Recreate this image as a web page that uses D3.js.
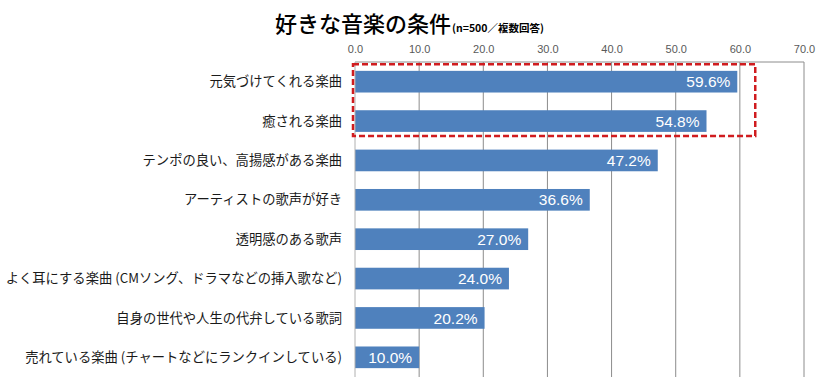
<!DOCTYPE html>
<html>
<head>
<meta charset="utf-8">
<script src="https://cdn.jsdelivr.net/npm/d3@7"></script>
<style>
  body { margin: 0; background: #fff; }
  svg { display: block; }
</style>
</head>
<body>
<div id="chart"></div>
<script>
// データ
var categories = [
  "元気づけてくれる楽曲",
  "癒される楽曲",
  "テンポの良い、高揚感がある楽曲",
  "アーティストの歌声が好き",
  "透明感のある歌声",
  "よく耳にする楽曲 (CMソング、ドラマなどの挿入歌など)",
  "自身の世代や人生の代弁している歌詞",
  "売れている楽曲 (チャートなどにランクインしている)"
];
var values = [59.6, 54.8, 47.2, 36.6, 27.0, 24.0, 20.2, 10.0];
var tickValues = [0, 10, 20, 30, 40, 50, 60, 70];
var highlighted = ["元気づけてくれる楽曲", "癒される楽曲"];

var width = 826, height = 386;
var margin = { top: 62, right: 22, bottom: 9, left: 355 };

var svg = d3.select("#chart").append("svg")
  .attr("width", width).attr("height", height);

var jp = "'Noto Sans CJK JP', 'Noto Sans', sans-serif";
var num = "'Liberation Sans', Arial, sans-serif";

const xScale = d3.scaleLinear()
  .domain([0, 70])
  .range([margin.left, width - margin.right]);

const yScale = d3.scaleBand()
  .domain(categories)
  .range([margin.top, height - margin.bottom])
  .paddingInner(0.45)
  .paddingOuter(0.225);

// タイトル
var title = svg.append("text")
  .attr("x", 275).attr("y", 32)
  .style("font-family", jp)
  .style("fill", "#000");
title.append("tspan").text("好きな音楽の条件")
  .style("font-size", "22px").style("font-weight", "500");
title.append("tspan").text("(n=500／複数回答)")
  .style("font-size", "10.5px").style("font-weight", "bold")
  .attr("dx", 1);

// グリッド線
svg.append("g").selectAll("line")
  .data(tickValues.slice(1))
  .enter().append("line")
  .attr("x1", d => xScale(d)).attr("x2", d => xScale(d))
  .attr("y1", margin.top).attr("y2", height - margin.bottom)
  .attr("stroke", "#8c8c8c").attr("stroke-width", 1);

// 上の枠線
svg.append("line")
  .attr("x1", xScale(0)).attr("x2", xScale(70))
  .attr("y1", margin.top).attr("y2", margin.top)
  .attr("stroke", "#8c8c8c");

// 上の目盛り
const xAxis = d3.axisTop(xScale).tickValues(tickValues).tickSize(0).tickPadding(9)
  .tickFormat(d3.format(".1f"));
const xAxisG = svg.append("g").attr("transform", "translate(0," + margin.top + ")").call(xAxis);
xAxisG.select(".domain").remove();
xAxisG.selectAll("text")
  .style("font-family", num).style("font-size", "11px").style("fill", "#595959");

// 棒
svg.append("g").selectAll("rect")
  .data(values)
  .enter().append("rect")
  .attr("x", xScale(0))
  .attr("y", (d, i) => yScale(categories[i]))
  .attr("width", d => xScale(d) - xScale(0))
  .attr("height", yScale.bandwidth())
  .attr("fill", "#4f81bd");

// 縦軸
svg.append("line")
  .attr("x1", xScale(0)).attr("x2", xScale(0))
  .attr("y1", margin.top).attr("y2", height - margin.bottom)
  .attr("stroke", "#b0b0b0");

// 項目名
svg.append("g").selectAll("text")
  .data(categories)
  .enter().append("text")
  .attr("x", xScale(0) - 13)
  .attr("y", d => yScale(d) + yScale.bandwidth() / 2)
  .attr("dy", "0.35em")
  .attr("text-anchor", "end")
  .style("font-family", jp).style("font-size", "13.3px").style("fill", "#1a1a1a")
  .text(d => d);

// 値ラベル
svg.append("g").selectAll("text")
  .data(values)
  .enter().append("text")
  .attr("x", d => xScale(d) - 7)
  .attr("y", (d, i) => yScale(categories[i]) + yScale.bandwidth() / 2)
  .attr("dy", "0.36em")
  .attr("text-anchor", "end")
  .style("font-family", num).style("font-size", "15.5px").style("fill", "#fff")
  .text(d => d.toFixed(1) + "%");

// 赤い点線の枠
var top1 = yScale(highlighted[0]), bot1 = yScale(highlighted[1]) + yScale.bandwidth();
svg.append("rect")
  .attr("x", xScale(0) - 2)
  .attr("y", top1 - 6.5)
  .attr("width", xScale(62.4) - xScale(0) + 2)
  .attr("height", bot1 - top1 + 10.5)
  .attr("fill", "none")
  .attr("stroke", "#d01c1f")
  .attr("stroke-width", 2.5)
  .attr("stroke-dasharray", "6,3");
</script>
</body>
</html>
